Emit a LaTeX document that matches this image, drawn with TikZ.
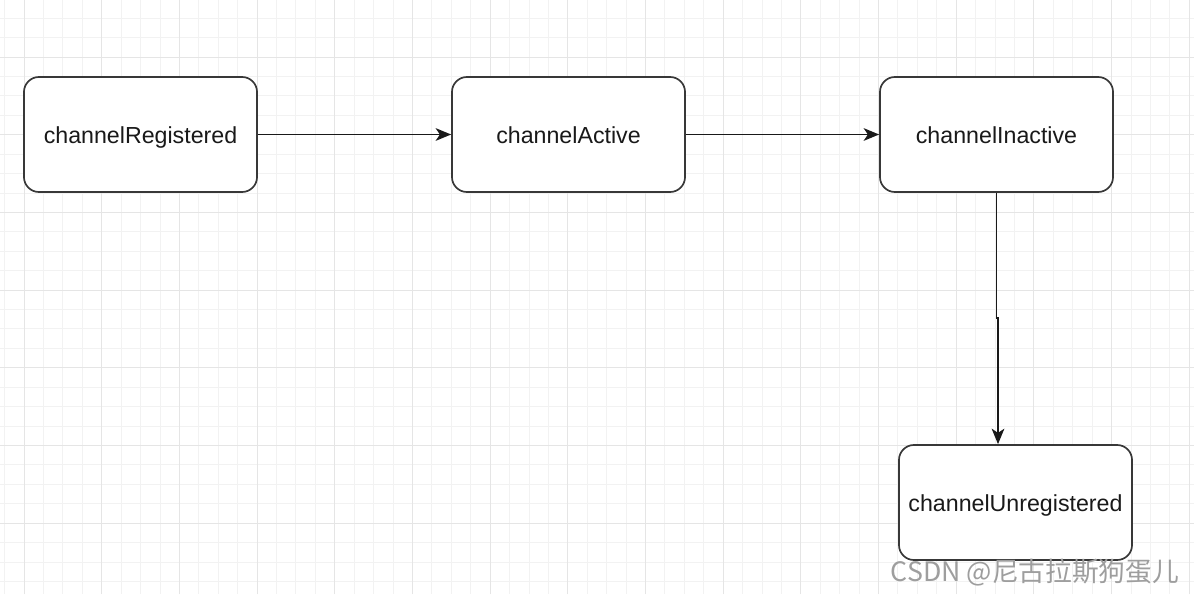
\documentclass[tikz,border=0pt]{standalone}
\usepackage{fontspec}
\setmainfont{Liberation Sans}
\newfontfamily\cjkfont{Noto Sans CJK SC}
\usetikzlibrary{arrows.meta}

\begin{document}
\begin{tikzpicture}[
        x=0.025cm, y=0.025cm,
        state/.style={draw=black!78, fill=white, rounded corners=0.375cm, line width=1.2pt, minimum width=5.825cm, minimum height=2.875cm, inner sep=0pt, text height=13pt, text depth=0pt, text=black!90, font=\fontsize{16.5}{20}\selectfont},
        arrow/.style={-{Stealth[length=11pt,width=9pt,inset=3pt]}, line width=1.3pt, black!90},
        gridminor/.style={draw=black!5, line width=0.6pt},
        gridmajor/.style={draw=black!10, line width=0.7pt}
        ]
        \useasboundingbox (0,0) rectangle (1194,594);
        \fill[white] (0,0) rectangle (1194,594);
        % grid
        \foreach \k in {-1,...,60} \draw[gridminor] ({24+19.42*\k},0) -- ({24+19.42*\k},594);
        \foreach \k in {-2,...,27} \draw[gridminor] (0,{537-19.42*\k}) -- (1194,{537-19.42*\k});
        \foreach \k in {0,...,15} \draw[gridmajor] ({24+77.68*\k},0) -- ({24+77.68*\k},594);
        \foreach \k in {0,...,6} \draw[gridmajor] (0,{537-77.68*\k}) -- (1194,{537-77.68*\k});
        
        \node[state] (registered) at (140.5,459.5) {channelRegistered};
        \node[state] (active) at (568.5,459.5) {channelActive};
        \node[state] (inactive) at (996.5,459.5) {channelInactive};
        \node[state] (unregistered) at (1015.5,91.5) {channelUnregistered};
        
        \coordinate (bend) at (998,276);
        \draw[arrow] (registered) -- (active);
        \draw[arrow] (active) -- (inactive);
        \draw[arrow] (inactive.south) |- (bend) -- (bend |- unregistered.north);
        
        \node[font=\cjkfont\fontsize{19}{22}\selectfont, text=black!38, inner sep=0pt] (mark) at (1035,22) {CSDN @尼古拉斯狗蛋儿};
    \end{tikzpicture}
\end{document}
